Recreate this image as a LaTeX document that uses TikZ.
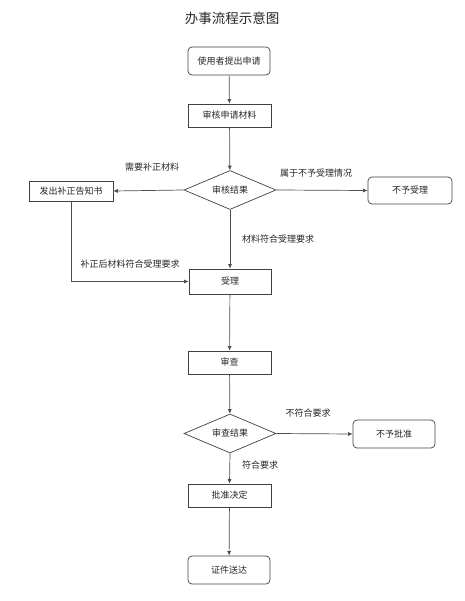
\documentclass[tikz,border=0pt]{standalone}
\usepackage{fontspec}
\setmainfont{Noto Sans CJK SC}
\usetikzlibrary{shapes.geometric,arrows.meta}
\begin{document}
\begin{tikzpicture}[x=1pt,y=-1pt,
  every node/.style={font=\fontsize{9}{10}\selectfont, text=black!85},
  rbox/.style={draw=black!75, line width=0.7pt, rounded corners=4pt, minimum width=82pt, minimum height=28pt, inner sep=0pt},
  sbox/.style={draw=black!75, line width=0.7pt, minimum width=83pt, minimum height=23pt, inner sep=0pt},
  dbox/.style={draw=black!75, line width=0.7pt, diamond, aspect=2.33, minimum width=92pt, minimum height=39pt, inner sep=0pt},
  lbl/.style={inner sep=0pt},
  conn/.style={draw=black!70, line width=0.7pt, -{Latex[length=4.5pt,width=4pt]}}
]
\useasboundingbox (0,0) rectangle (464,601);
\node[font=\fontsize{13.5}{15}\selectfont, text=black!85] (title) at (232,18) {办事流程示意图};
\node[rbox] (b1) at (229,61) {使用者提出申请};
\node[sbox] (b2) at (229.5,115.5) {审核申请材料};
\node[dbox] (d1) at (230,190) {审核结果};
\node[sbox, minimum width=84pt, minimum height=20pt] (fa) at (71,191) {发出补正告知书};
\node[rbox, minimum width=84pt, minimum height=27pt] (nr) at (410,190.5) {不予受理};
\node[sbox, minimum width=82pt, minimum height=25pt] (sl) at (230,281.5) {受理};
\node[sbox] (sc) at (229.5,362.5) {审查};
\node[dbox] (d2) at (230,433.5) {审查结果};
\node[rbox] (np) at (394,434) {不予批准};
\node[sbox] (pz) at (229.5,495.5) {批准决定};
\node[rbox] (zj) at (229,570) {证件送达};

\node[lbl] (l1) at (152,167) {需要补正材料};
\node[lbl] (l2) at (316,173) {属于不予受理情况};
\node[lbl] (l3) at (278,239) {材料符合受理要求};
\node[lbl] (l4) at (130,264) {补正后材料符合受理要求};
\node[lbl] (l5) at (308,413) {不符合要求};
\node[lbl] (l6) at (260,465) {符合要求};

\draw[conn] (b1) -- (b2);
\draw[conn] (b2) -- (d1);
\draw[conn] (d1.west) -- (fa.east);
\draw[conn] (d1.east) -- (nr.west);
\draw[conn] (d1.south) -- (sl.north);
\draw[conn] (fa.south) |- (sl.west);
\draw[conn] (sl) -- (sc);
\draw[conn] (sc) -- (d2);
\draw[conn] (d2.east) -- (np.west);
\draw[conn] (d2.south) -- (pz.north);
\draw[conn] (pz) -- (zj);
\end{tikzpicture}
\end{document}
